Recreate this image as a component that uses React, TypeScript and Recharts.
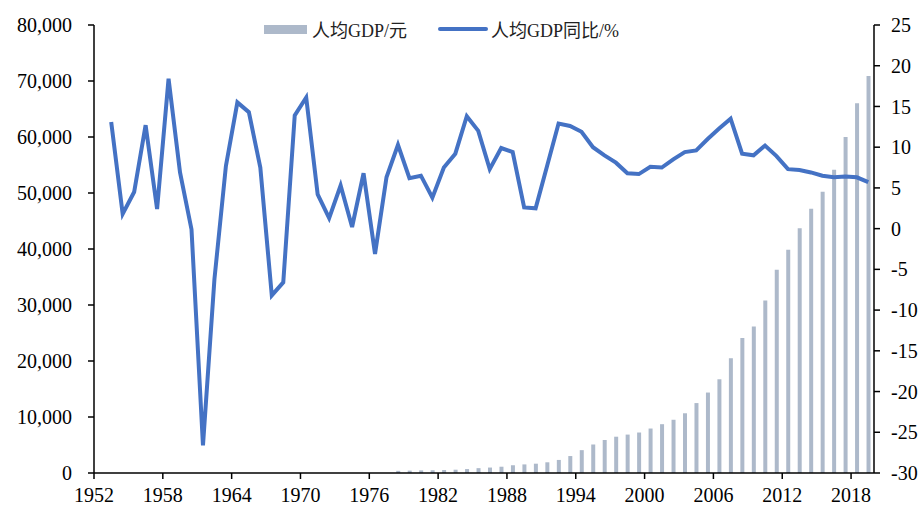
import {
  ComposedChart,
  Bar,
  Line,
  XAxis,
  YAxis,
  Legend,
} from "recharts";

// 1952–2019
const years = Array.from({ length: 68 }, (_, i) => 1952 + i);

// per-capita GDP (yuan), bars start in 1978
const gdpPerCapita = [
  385, 423, 468, 497, 533, 588, 702, 866, 973, 1123,
  1378, 1536, 1663, 1912, 2334, 3027, 4081, 5091, 5898, 6481,
  6860, 7229, 7942, 8717, 9506, 10666, 12487, 14368, 16738, 20494,
  24100, 26180, 30808, 36302, 39874, 43684, 47173, 50237, 54139, 60014,
  66006, 70892,
];
const GDP_START = 1978;

// per-capita GDP growth, % (from 1953)
const growth = [
  13.1, 1.8, 4.5, 12.7, 2.4, 18.4, 6.9, -0.1, -26.6, -6.2,
  7.7, 15.5, 14.3, 7.5, -8.2, -6.6, 13.9, 16.1, 4.2, 1.3,
  5.3, 0.2, 6.8, -3.1, 6.3, 10.3, 6.2, 6.5, 3.8, 7.5,
  9.2, 13.8, 12.0, 7.3, 9.9, 9.4, 2.6, 2.5, 7.7, 12.9,
  12.6, 11.9, 10.0, 9.0, 8.1, 6.8, 6.7, 7.6, 7.5, 8.5,
  9.4, 9.6, 11.0, 12.3, 13.5, 9.2, 9.0, 10.2, 8.9, 7.3,
  7.2, 6.9, 6.5, 6.3, 6.4, 6.3, 5.7,
];
const GROWTH_START = 1953;

const xTickYears = [1952, 1958, 1964, 1970, 1976, 1982, 1988, 1994, 2000, 2006, 2012, 2018];
const leftTicks = [0, 10000, 20000, 30000, 40000, 50000, 60000, 70000, 80000];
const rightTicks = [-30, -25, -20, -15, -10, -5, 0, 5, 10, 15, 20, 25];

const BAR_COLOR = "#ADB9CA";
const LINE_COLOR = "#4472C4";
const FONT = '"Liberation Serif", "Times New Roman", "Noto Sans CJK SC", serif';
const LEGEND_FONT = '"Liberation Serif", "Noto Sans CJK SC", serif';

const data = years.map((year) => {
  const gi = year - GDP_START;
  const ri = year - GROWTH_START;
  return {
    year,
    gdp: gi >= 0 ? gdpPerCapita[gi] : null,
    growth: ri >= 0 ? growth[ri] : null,
  };
});

const tickStyle = { fontFamily: FONT, fontSize: 20, fill: "#000" };
const axisLine = { stroke: "#000", strokeWidth: 1.5 };

function LegendContent() {
  return (
    <div
      style={{
        display: "flex",
        alignItems: "center",
        fontFamily: LEGEND_FONT,
        fontSize: 18,
        color: "#222",
        whiteSpace: "nowrap",
      }}
    >
      <span style={{ width: 43, height: 9, background: BAR_COLOR, display: "inline-block" }} />
      <span style={{ marginLeft: 5 }}>人均GDP/元</span>
      <span
        style={{
          marginLeft: 31,
          width: 50,
          height: 4,
          borderRadius: 2,
          background: LINE_COLOR,
          display: "inline-block",
        }}
      />
      <span style={{ marginLeft: 3 }}>人均GDP同比/%</span>
    </div>
  );
}

export default function App() {
  return (
    <div>
      <style>{`body{margin:0}`}</style>
      <ComposedChart
        width={922}
        height={506}
        data={data}
        margin={{ top: 25, right: 0, bottom: 0, left: 0 }}
      >
        <XAxis
          dataKey="year"
          type="number"
          domain={[1951.5, 2019.5]}
          ticks={xTickYears.map((y) => y - 0.5)}
          tickFormatter={(v: number) => String(v + 0.5)}
          height={33}
          tick={tickStyle}
          axisLine={axisLine}
          tickLine={axisLine}
          tickSize={6}
          tickMargin={9}
          interval={0}
        />
        <YAxis
          yAxisId="left"
          domain={[0, 80000]}
          ticks={leftTicks}
          tickFormatter={(v: number) => v.toLocaleString("en-US")}
          width={94}
          tick={tickStyle}
          axisLine={axisLine}
          tickLine={axisLine}
          tickSize={6}
          tickMargin={16}
          interval={0}
        />
        <YAxis
          yAxisId="right"
          orientation="right"
          domain={[-30, 25]}
          ticks={rightTicks}
          width={48}
          tick={tickStyle}
          axisLine={axisLine}
          tickLine={axisLine}
          tickSize={6}
          tickMargin={11}
          interval={0}
        />
        <Legend
          verticalAlign="middle"
          align="center"
          content={() => <LegendContent />}
          wrapperStyle={{ top: 16, left: 264, width: "auto" }}
        />
        <Bar
          yAxisId="left"
          dataKey="gdp"
          name="人均GDP/元"
          fill={BAR_COLOR}
          barSize={4}
          isAnimationActive={false}
        />
        <Line
          yAxisId="right"
          dataKey="growth"
          name="人均GDP同比/%"
          type="linear"
          stroke={LINE_COLOR}
          strokeWidth={4}
          dot={false}
          activeDot={false}
          isAnimationActive={false}
        />
      </ComposedChart>
    </div>
  );
}
